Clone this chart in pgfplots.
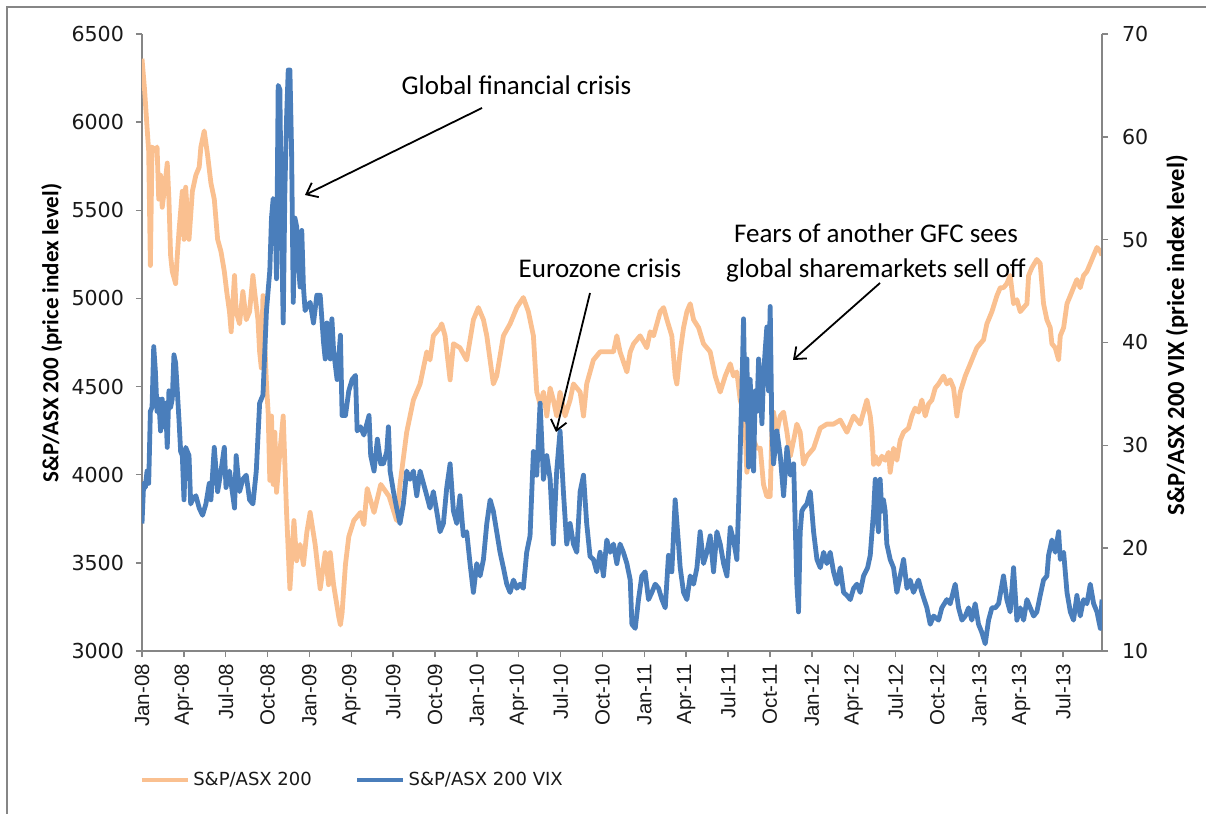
\documentclass[border=0pt]{standalone}
\usepackage{fontspec}
\setmainfont{Carlito}
\newfontfamily\dejavu{DejaVu Sans}
\newfontfamily\libsans{Liberation Sans}
\usepackage{pgfplots}
\pgfplotsset{compat=1.18}
\usetikzlibrary{arrows.meta}
\definecolor{sporange}{RGB}{250,192,144}
\definecolor{vixblue}{RGB}{74,126,187}
\definecolor{axgray}{RGB}{134,134,134}
\pgfplotsset{base/.style={
  width=480pt, height=308.5pt, scale only axis,
  at={(0,0)}, anchor=south west,
  xmin=0, xmax=68.8,
  tick align=outside, major tick length=3pt,
  axis line style={axgray, line width=0.75pt},
  tick style={axgray, line width=0.75pt},
  /pgf/number format/assume math mode=true,
  /pgf/number format/1000 sep={},
}}
\begin{document}
\begin{tikzpicture}
\useasboundingbox (-71pt,-81.5pt) rectangle (532pt,325.5pt);
\draw[axgray, line width=1pt] (-67.5pt,-81.5pt) -- (-67.5pt,322pt) -- (532pt,322pt);
\begin{axis}[base,
  axis x line*=bottom, axis y line*=left,
  ymin=3000, ymax=6500, ytick={3000,3500,...,6500},
  yticklabel style={font=\dejavu\fontsize{10.3}{12}\selectfont, text=black!90, xshift=-2.5pt},
  xtick={0,3,...,66},
  xticklabels={Jan-08,Apr-08,Jul-08,Oct-08,Jan-09,Apr-09,Jul-09,Oct-09,Jan-10,Apr-10,Jul-10,Oct-10,Jan-11,Apr-11,Jul-11,Oct-11,Jan-12,Apr-12,Jul-12,Oct-12,Jan-13,Apr-13,Jul-13},
  xticklabel style={rotate=90, anchor=east, font=\libsans\fontsize{10.25}{12}\selectfont, text=black!90},
  ylabel={S\&P/ASX 200 (price index level)},
  every axis y label/.style={at={(axis description cs:-0.094,0.515)}, rotate=90, anchor=center, font=\bfseries\fontsize{11.5}{13}\selectfont},
  legend columns=2,
  legend style={draw=none, fill=none, at={(axis description cs:-0.003,-0.209)}, anchor=west,
    font=\dejavu\fontsize{9}{11}\selectfont, text=black!90, inner sep=0pt,
    /tikz/every even column/.append style={column sep=20pt}, nodes={inner sep=1.5pt}},
  legend image code/.code={\draw[#1] (0pt,0pt) -- (23pt,0pt);},
]
\addplot[sporange, line width=2.4pt, line join=round] table {
0.00 6360
0.19 6178
0.36 5973
0.48 5836
0.60 5187
0.72 5859
0.96 5836
1.08 5859
1.20 5563
1.33 5699
1.45 5517
1.69 5677
1.81 5768
1.93 5563
2.05 5244
2.17 5153
2.41 5084
2.53 5244
2.65 5380
2.89 5608
3.01 5335
3.13 5631
3.37 5335
3.61 5608
3.86 5699
4.10 5745
4.22 5859
4.46 5950
4.70 5813
4.94 5654
5.18 5563
5.42 5335
5.66 5266
5.90 5153
6.07 5039
6.27 4925
6.39 4811
6.63 5130
6.75 4925
6.99 4856
7.23 5039
7.47 4879
7.71 4925
7.95 5130
8.07 5039
8.31 4879
8.43 4697
8.55 4606
8.67 5016
8.80 4743
8.92 4515
9.04 4355
9.16 3968
9.28 4333
9.40 3945
9.52 4241
9.64 3900
9.88 4127
10.12 4333
10.36 3786
10.60 3353
10.89 3740
11.08 3512
11.33 3604
11.57 3490
11.81 3672
12.05 3786
12.41 3604
12.77 3353
13.13 3558
13.37 3376
13.49 3558
13.73 3376
14.10 3194
14.22 3148
14.34 3216
14.58 3490
14.82 3649
15.18 3740
15.66 3786
15.90 3717
16.14 3922
16.63 3786
17.11 3945
17.71 3877
18.25 3740
18.49 3945
18.97 4241
19.45 4424
19.93 4515
20.41 4697
20.64 4651
20.88 4788
21.36 4834
21.48 4856
21.72 4788
22.08 4538
22.32 4743
22.79 4720
23.27 4651
23.75 4879
24.11 4948
24.47 4879
24.71 4788
25.18 4515
25.42 4560
25.90 4788
26.38 4856
26.86 4948
27.33 5005
27.69 4925
28.05 4788
28.29 4469
28.53 4401
28.77 4469
29.01 4333
29.25 4492
29.48 4424
29.72 4333
29.96 4469
30.32 4333
30.68 4424
30.92 4515
31.40 4469
31.64 4333
31.87 4515
32.35 4651
32.83 4697
33.31 4697
33.79 4697
34.03 4788
34.26 4697
34.75 4583
34.99 4697
35.23 4743
35.70 4788
36.18 4720
36.42 4811
36.66 4788
37.14 4925
37.38 4948
37.62 4879
37.97 4788
38.21 4560
38.33 4515
38.57 4697
38.81 4834
39.05 4925
39.29 4970
39.53 4879
39.89 4834
40.24 4743
40.72 4697
41.08 4560
41.44 4469
41.80 4560
42.16 4629
42.39 4560
42.63 4583
42.87 4424
43.11 4355
43.23 4241
43.35 4014
43.59 4127
43.83 4196
44.07 4150
44.31 4150
44.54 3945
44.78 3877
45.02 3877
45.14 4241
45.26 4355
45.50 4241
45.74 4333
45.98 4355
46.22 4241
46.46 4105
46.70 4196
46.93 4287
47.17 4241
47.41 4059
47.65 4105
48.13 4150
48.61 4264
49.08 4287
49.56 4287
50.04 4310
50.52 4241
51.00 4333
51.47 4287
51.95 4424
52.19 4333
52.31 4241
52.43 4059
52.55 4105
52.78 4059
53.02 4105
53.26 4082
53.50 4127
53.62 4014
53.86 4150
54.10 4082
54.34 4196
54.58 4241
54.93 4264
55.17 4333
55.41 4378
55.65 4355
55.89 4424
56.13 4333
56.37 4401
56.61 4424
56.85 4492
57.09 4515
57.44 4560
57.68 4515
57.92 4538
58.16 4492
58.40 4333
58.64 4469
59.00 4560
59.36 4629
59.59 4674
59.83 4720
60.07 4743
60.31 4765
60.55 4856
60.91 4925
61.27 5016
61.51 5061
61.74 5061
61.98 5084
62.22 5130
62.46 4970
62.70 4993
62.94 4925
63.18 4948
63.42 4970
63.54 5130
63.78 5175
64.13 5221
64.37 5198
64.61 4970
64.85 4879
65.09 4834
65.21 4743
65.45 4720
65.69 4651
65.81 4788
66.05 4834
66.29 4970
66.53 5016
66.76 5061
67.00 5107
67.24 5061
67.48 5130
67.72 5153
67.96 5198
68.20 5244
68.44 5289
68.68 5267
68.80 5244
};
\addlegendentry{S\&P/ASX 200}
\addlegendimage{vixblue, line width=2.4pt}
\addlegendentry{S\&P/ASX 200 VIX}
\end{axis}
\begin{axis}[base,
  hide x axis, axis y line*=right,
  ymin=10, ymax=70, ytick={10,20,...,70},
  yticklabel style={font=\dejavu\fontsize{10.3}{12}\selectfont, text=black!90, xshift=3.5pt},
  ylabel={S\&P/ASX 200 VIX (price index level)},
  every axis y label/.style={at={(axis description cs:1.078,0.512)}, rotate=90, anchor=center, font=\bfseries\fontsize{12.3}{14}\selectfont},
]
\addplot[vixblue, line width=2.4pt, line join=round] table {
0.00 22.4
0.12 26.3
0.24 25.9
0.36 27.5
0.48 26.3
0.60 33.3
0.72 33.7
0.84 39.6
0.96 37.2
1.08 33.3
1.20 34.5
1.33 31.4
1.45 34.5
1.57 31.8
1.69 34.1
1.81 29.8
1.93 35.3
2.05 33.7
2.17 34.5
2.29 38.8
2.41 38.0
2.53 35.3
2.65 32.5
2.77 29.4
2.89 29.0
3.01 24.7
3.13 29.8
3.37 29.0
3.49 24.3
3.61 24.7
3.86 25.1
4.10 23.9
4.34 23.2
4.58 24.3
4.82 26.3
4.94 24.7
5.18 29.8
5.42 25.5
5.66 27.5
5.90 29.8
6.02 25.9
6.27 27.5
6.63 23.9
6.75 29.0
6.99 25.5
7.23 26.7
7.47 27.1
7.71 24.7
7.95 24.3
8.19 27.5
8.43 34.1
8.67 34.9
8.92 43.1
9.16 47.0
9.28 52.1
9.40 54.0
9.52 53.6
9.64 46.2
9.76 65.0
9.88 64.6
10.00 50.9
10.12 41.9
10.24 54.8
10.36 61.8
10.48 66.5
10.60 66.5
10.72 58.7
10.84 43.9
10.96 52.1
11.08 51.3
11.20 47.8
11.33 45.4
11.45 50.9
11.57 45.4
11.69 43.1
11.81 43.5
12.05 43.9
12.29 41.9
12.53 44.6
12.77 44.6
13.01 40.0
13.13 38.4
13.25 41.9
13.49 38.4
13.61 42.3
13.73 39.2
13.98 36.4
14.22 40.7
14.34 32.9
14.58 32.9
14.82 35.3
15.06 36.4
15.30 36.8
15.42 31.4
15.66 31.8
15.90 31.0
16.27 32.9
16.39 29.0
16.63 27.5
16.87 30.6
17.11 28.2
17.30 28.2
17.54 29.4
17.66 31.8
17.78 27.5
18.02 25.5
18.25 23.9
18.49 22.4
18.73 24.3
18.97 27.5
19.21 26.7
19.45 27.5
19.69 25.1
19.93 27.5
20.17 26.3
20.41 25.1
20.64 23.9
20.88 25.5
21.12 23.6
21.36 21.6
21.60 22.4
21.84 25.9
22.08 28.2
22.32 23.6
22.56 22.4
22.79 25.1
23.03 21.2
23.27 21.6
23.51 18.5
23.75 15.7
23.99 18.5
24.23 17.3
24.47 18.9
24.71 22.4
24.95 24.7
25.18 23.6
25.42 21.6
25.66 19.6
25.90 18.1
26.14 16.5
26.38 15.7
26.62 16.9
26.86 16.1
27.10 16.5
27.33 16.1
27.57 19.6
27.81 21.2
28.05 29.4
28.29 27.1
28.53 34.1
28.77 26.7
29.01 29.0
29.25 26.7
29.48 20.4
29.72 27.5
29.96 31.4
30.20 25.5
30.44 20.4
30.68 22.4
30.92 20.4
31.16 19.6
31.40 25.5
31.64 27.1
31.87 22.4
32.11 19.2
32.35 18.9
32.59 17.7
32.83 19.6
33.07 17.3
33.31 20.8
33.55 19.6
33.79 20.4
34.03 18.5
34.26 20.4
34.50 19.6
34.75 18.5
34.99 16.9
35.11 12.6
35.35 12.2
35.58 15.0
35.82 17.3
36.06 17.7
36.30 15.0
36.54 15.7
36.78 16.5
37.02 16.1
37.26 15.0
37.50 14.2
37.73 19.3
37.97 17.7
38.21 24.7
38.45 20.4
38.57 18.1
38.81 15.7
39.05 15.0
39.29 17.3
39.53 16.5
39.77 18.1
40.00 21.6
40.24 18.5
40.48 19.6
40.72 21.2
40.96 17.7
41.20 21.6
41.44 20.4
41.68 18.5
41.92 17.3
42.16 22.0
42.39 20.8
42.63 18.9
42.75 23.9
42.87 29.4
42.99 35.3
43.11 42.3
43.23 32.5
43.35 38.4
43.47 27.9
43.59 36.4
43.71 29.0
43.83 27.5
43.95 35.3
44.07 33.3
44.19 38.4
44.31 35.3
44.43 32.1
44.54 36.8
44.66 39.2
44.78 41.5
44.90 35.3
45.02 43.5
45.14 31.4
45.26 28.2
45.50 31.4
45.74 29.0
45.98 25.1
46.22 29.8
46.46 27.1
46.70 28.2
46.82 22.0
46.93 16.5
47.05 13.8
47.17 21.6
47.29 23.6
47.41 23.9
47.65 24.3
47.89 25.5
48.01 23.6
48.13 21.6
48.37 18.9
48.61 18.1
48.85 19.6
49.08 18.5
49.32 19.6
49.56 17.7
49.80 16.5
50.04 18.1
50.28 15.7
50.52 15.4
50.76 15.0
51.00 16.1
51.24 16.5
51.47 15.7
51.71 17.3
52.00 18.1
52.19 19.3
52.43 23.6
52.55 26.7
52.66 23.2
52.78 21.6
52.90 26.7
53.02 23.6
53.14 24.7
53.26 23.6
53.38 20.4
53.62 18.9
53.86 18.1
54.10 15.7
54.34 17.3
54.58 18.9
54.82 16.1
55.05 16.9
55.29 15.7
55.65 16.9
55.89 15.7
56.25 14.2
56.49 12.6
56.73 13.4
57.09 13.0
57.32 14.2
57.68 15.0
57.92 14.6
58.28 16.5
58.52 14.2
58.76 13.0
59.00 13.4
59.24 14.2
59.47 13.0
59.71 14.6
59.95 12.6
60.19 11.8
60.43 10.7
60.67 13.0
60.91 14.2
61.15 14.2
61.39 14.6
61.74 17.3
61.98 15.0
62.22 13.8
62.46 18.1
62.70 13.0
62.94 14.2
63.18 13.0
63.42 15.0
63.66 14.2
63.90 13.4
64.13 13.8
64.37 15.4
64.61 16.9
64.85 17.3
64.97 19.3
65.21 20.8
65.45 19.6
65.69 21.6
65.81 18.9
66.05 19.6
66.29 15.7
66.53 13.8
66.76 13.0
67.00 15.4
67.24 13.4
67.48 15.0
67.72 14.6
67.96 16.5
68.20 14.6
68.44 13.8
68.68 12.2
68.80 15.0
};
\end{axis}
\node[font=\fontsize{13.5}{16}\selectfont] at (187.25pt,283pt) {Global financial crisis};
\draw[line width=0.9pt, -{Straight Barb[length=5pt,width=8pt]}] (170pt,271.5pt) -- (81.5pt,228pt);
\node[font=\fontsize{13.5}{16}\selectfont] at (229pt,191.5pt) {Eurozone crisis};
\draw[line width=0.9pt, -{Straight Barb[length=5pt,width=8pt]}] (224pt,179pt) -- (207pt,109.5pt);
\node[font=\fontsize{13.5}{17.5}\selectfont, align=center] at (367pt,199pt) {Fears of another GFC sees\\global sharemarkets sell off};
\draw[line width=0.9pt, -{Straight Barb[length=5pt,width=8pt]}] (369pt,184pt) -- (325.5pt,145.5pt);
\end{tikzpicture}
\end{document}
